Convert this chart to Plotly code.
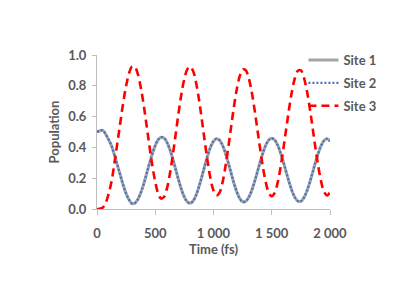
import plotly.graph_objects as go

time_fs = [0, 25, 50, 75, 100, 125, 150, 175, 200, 225, 250, 275, 300, 325, 350, 375, 400,
           425, 450, 475, 500, 525, 550, 575, 600, 625, 650, 675, 700, 725, 750, 775, 800,
           825, 850, 875, 900, 925, 950, 975, 1000, 1025, 1050, 1075, 1100, 1125, 1150, 1175, 1200,
           1225, 1250, 1275, 1300, 1325, 1350, 1375, 1400, 1425, 1450, 1475, 1500, 1525, 1550, 1575, 1600,
           1625, 1650, 1675, 1700, 1725, 1750, 1775, 1800, 1825, 1850, 1875, 1900, 1925, 1950, 1975, 2000]

site3 = [0.000, 0.002, 0.010, 0.040, 0.100, 0.180, 0.300, 0.430, 0.560, 0.690, 0.800, 0.880, 0.925, 0.923, 0.877, 0.793, 0.680,
         0.547, 0.410, 0.282, 0.176, 0.101, 0.068, 0.078, 0.132, 0.225, 0.347, 0.484, 0.623, 0.748, 0.846, 0.907, 0.925,
         0.896, 0.822, 0.712, 0.580, 0.439, 0.306, 0.195, 0.120, 0.088, 0.104, 0.165, 0.264, 0.390, 0.527, 0.662, 0.778,
         0.862, 0.906, 0.903, 0.857, 0.772, 0.658, 0.526, 0.392, 0.268, 0.169, 0.105, 0.083, 0.105, 0.169, 0.268, 0.392,
         0.526, 0.657, 0.770, 0.854, 0.898, 0.900, 0.856, 0.774, 0.662, 0.531, 0.397, 0.274, 0.174, 0.110, 0.088, 0.110]

site1 = [0.500, 0.508, 0.510, 0.485, 0.450, 0.410, 0.350, 0.285, 0.220, 0.155, 0.100, 0.060, 0.036, 0.038, 0.062, 0.104, 0.160,
         0.227, 0.295, 0.359, 0.412, 0.450, 0.466, 0.461, 0.434, 0.388, 0.327, 0.258, 0.189, 0.126, 0.077, 0.047, 0.038,
         0.052, 0.089, 0.144, 0.210, 0.281, 0.347, 0.403, 0.440, 0.456, 0.448, 0.418, 0.368, 0.305, 0.237, 0.169, 0.111,
         0.069, 0.047, 0.049, 0.072, 0.114, 0.171, 0.237, 0.304, 0.366, 0.416, 0.448, 0.459, 0.448, 0.416, 0.366, 0.304,
         0.237, 0.172, 0.115, 0.073, 0.051, 0.050, 0.072, 0.113, 0.169, 0.235, 0.302, 0.363, 0.413, 0.445, 0.456, 0.440]

site2 = list(site1)

x_tickvals = [0, 500, 1000, 1500, 2000]
x_ticktext = ["0", "500", "1 000", "1 500", "2 000"]
y_tickvals = [0.0, 0.2, 0.4, 0.6, 0.8, 1.0]
y_ticktext = ["0.0", "0.2", "0.4", "0.6", "0.8", "1.0"]

FONT = "Lato"
GREY_TXT = "#595959"
bold = dict(family=FONT, color=GREY_TXT, size=13, weight="bold")

fig = go.Figure()
fig.add_trace(go.Scatter(x=time_fs, y=site1, mode="lines", name="Site 1", legendgroup="s1",
                         line=dict(color="#A5A5A5", width=3, shape="spline")))
fig.add_trace(go.Scatter(x=time_fs, y=site2, mode="lines", name="Site 2", legendgroup="s2",
                         line=dict(color="#4472C4", width=2.2, dash="2px,2px", shape="spline")))
fig.add_trace(go.Scatter(x=time_fs, y=site3, mode="lines", name="Site 3", legendgroup="s3",
                         line=dict(color="#FF0000", width=2.6, dash="8px,5px", shape="spline")))

fig.update_layout(
    width=415, height=294,
    margin=dict(l=89, r=93, t=47, b=93, autoexpand=False),
    paper_bgcolor="white", plot_bgcolor="white",
    font=dict(family=FONT, color=GREY_TXT, size=12),
    legend=dict(x=0.886, y=1.065, xanchor="left", yanchor="top",
                bgcolor="rgba(0,0,0,0)", font=dict(size=13, color=GREY_TXT, family=FONT, weight="bold"),
                itemwidth=30, tracegroupgap=3),
    xaxis=dict(range=[0, 2000], tickvals=x_tickvals, ticktext=x_ticktext, automargin=False,
               showgrid=False, zeroline=False, showline=True, linecolor="#BFBFBF", linewidth=1,
               ticks="outside", ticklen=5, tickcolor="#BFBFBF", ticklabelstandoff=7,
               tickfont=bold,
               title=dict(text="Time (fs)", font=bold, standoff=0)),
    yaxis=dict(range=[0, 1.0], tickvals=y_tickvals, ticktext=y_ticktext, automargin=False,
               showgrid=False, zeroline=False, showline=True, linecolor="#BFBFBF", linewidth=1,
               ticks="outside", ticklen=4, tickcolor="#BFBFBF", ticklabelstandoff=3,
               tickfont=bold,
               title=dict(text="Population", font=bold, standoff=5)),
)

fig.write_html("out.html")
